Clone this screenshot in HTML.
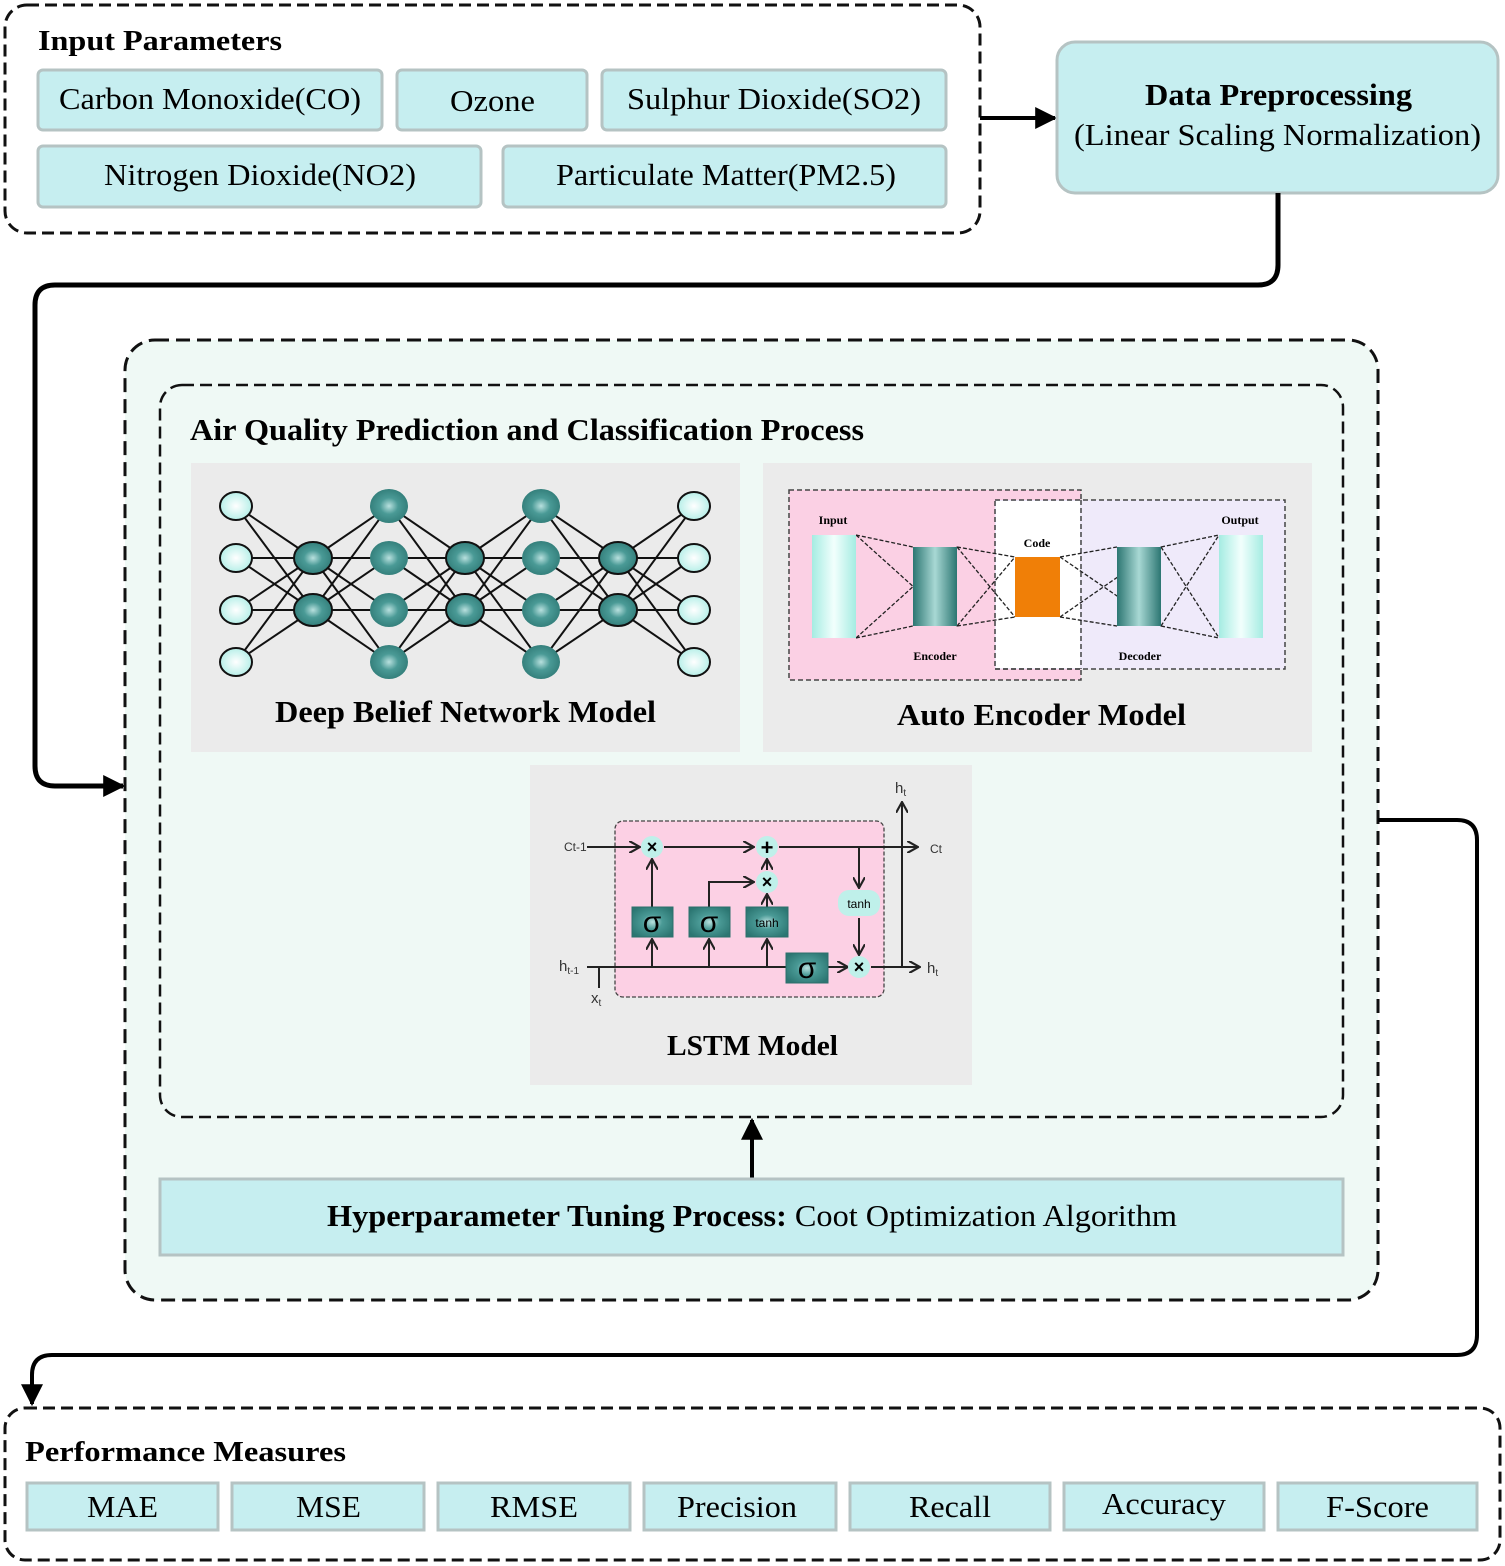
<!DOCTYPE html>
<html><head><meta charset="utf-8"><style>
html,body{margin:0;padding:0;background:#fff}
svg{display:block}
text{font-family:"Liberation Serif",serif}
.s text{font-family:"Liberation Sans",sans-serif}
</style></head><body>
<svg id="g" width="1505" height="1566" viewBox="0 0 1505 1566" xmlns="http://www.w3.org/2000/svg">
<defs>
<marker id="ab" viewBox="0 0 10 10" markerWidth="22" markerHeight="22" refX="9" refY="5" orient="auto" markerUnits="userSpaceOnUse"><path d="M0,0 L10,5 L0,10 z" fill="#000"/></marker>
<marker id="la" viewBox="0 0 10 10" markerWidth="12" markerHeight="12" refX="9" refY="5" orient="auto" markerUnits="userSpaceOnUse"><path d="M0,0 L9,5 L0,10" fill="none" stroke="#222" stroke-width="1.8"/></marker>
<radialGradient id="teal" cx="50%" cy="50%" r="60%"><stop offset="0" stop-color="#b8e0de"/><stop offset="0.4" stop-color="#4a9a96"/><stop offset="1" stop-color="#2c7672"/></radialGradient>
<radialGradient id="lc" cx="50%" cy="50%" r="60%"><stop offset="0" stop-color="#ffffff"/><stop offset="1" stop-color="#a9ece4"/></radialGradient>
<linearGradient id="tealh" x1="0" x2="1"><stop offset="0" stop-color="#2c7672"/><stop offset="0.5" stop-color="#a8d8d4"/><stop offset="1" stop-color="#2c7672"/></linearGradient>
<linearGradient id="lch" x1="0" x2="1"><stop offset="0" stop-color="#a5ece2"/><stop offset="0.5" stop-color="#f2fffd"/><stop offset="1" stop-color="#a5ece2"/></linearGradient>
</defs>

<rect x="5" y="5" width="975" height="228" rx="22" fill="#fff" stroke="#111" stroke-width="3" stroke-dasharray="12,6"/>
<text x="38" y="50" font-size="28" font-weight="bold" textLength="244" lengthAdjust="spacingAndGlyphs">Input Parameters</text>
<g fill="#c6eef0" stroke="#b5c3c3" stroke-width="3">
<rect x="38" y="70" width="344" height="60" rx="5"/>
<rect x="397" y="70" width="190" height="60" rx="5"/>
<rect x="602" y="70" width="344" height="60" rx="5"/>
<rect x="38" y="146" width="443" height="61" rx="5"/>
<rect x="503" y="146" width="443" height="61" rx="5"/>
</g>
<g font-size="31" lengthAdjust="spacingAndGlyphs">
<text x="59" y="109" textLength="302" lengthAdjust="spacingAndGlyphs">Carbon Monoxide(CO)</text>
<text x="450" y="111" textLength="85" lengthAdjust="spacingAndGlyphs">Ozone</text>
<text x="627" y="109" textLength="294" lengthAdjust="spacingAndGlyphs">Sulphur Dioxide(SO2)</text>
<text x="104" y="185" textLength="312" lengthAdjust="spacingAndGlyphs">Nitrogen Dioxide(NO2)</text>
<text x="556" y="185" textLength="340" lengthAdjust="spacingAndGlyphs">Particulate Matter(PM2.5)</text>
</g>
<line x1="980" y1="118" x2="1055" y2="118" stroke="#000" stroke-width="4" marker-end="url(#ab)"/>

<rect x="1057" y="42" width="441" height="151" rx="18" fill="#c6eef0" stroke="#b5c3c3" stroke-width="3"/>
<text x="1145" y="105" font-size="31" font-weight="bold" textLength="267" lengthAdjust="spacingAndGlyphs">Data Preprocessing</text>
<text x="1074" y="145" font-size="31" textLength="407" lengthAdjust="spacingAndGlyphs">(Linear Scaling Normalization)</text>

<path d="M1278,193 V265 Q1278,285 1258,285 H55 Q35,285 35,305 V766 Q35,786 55,786 H123" fill="none" stroke="#000" stroke-width="5" marker-end="url(#ab)"/>

<rect x="125" y="340" width="1253" height="960" rx="30" fill="#eff9f5" stroke="#111" stroke-width="3" stroke-dasharray="14,7"/>
<rect x="160" y="385" width="1183" height="732" rx="22" fill="none" stroke="#111" stroke-width="2.5" stroke-dasharray="12,6"/>
<text x="190" y="440" font-size="31" font-weight="bold" textLength="674" lengthAdjust="spacingAndGlyphs">Air Quality Prediction and Classification Process</text>

<rect x="191" y="463" width="549" height="289" fill="#ebebeb"/>
<g id="dbnl" stroke="#111" stroke-width="2"></g>
<g id="dbnn"></g>
<text x="275" y="722" font-size="31" font-weight="bold" textLength="381" lengthAdjust="spacingAndGlyphs">Deep Belief Network Model</text>

<rect x="763" y="463" width="549" height="289" fill="#ebebeb"/>
<rect x="789" y="490" width="292" height="190" fill="#fbd0e4" stroke="#444" stroke-width="1.5" stroke-dasharray="5,3"/>
<rect x="995" y="500" width="290" height="169" fill="#efeafa" stroke="#444" stroke-width="1.5" stroke-dasharray="5,3"/>
<rect x="996" y="501" width="84" height="167" fill="#fff"/>
<line x1="1081" y1="500" x2="1081" y2="669" stroke="#444" stroke-width="1.5" stroke-dasharray="5,3"/>
<line x1="995" y1="669" x2="1081" y2="669" stroke="#444" stroke-width="1.5" stroke-dasharray="5,3"/>
<g stroke="#222" stroke-width="1.3" stroke-dasharray="4,2" fill="none">
<path d="M856,535 L913,547 M856,535 L957,626 M856,638 L913,626 M856,638 L957,547"/>
<path d="M957,547 L1015,557 M957,547 L1015,617 M957,626 L1015,617 M957,626 L1015,557"/>
<path d="M1060,557 L1117,547 M1060,557 L1161,626 M1060,617 L1117,626 M1060,617 L1161,547"/>
<path d="M1161,547 L1219,535 M1161,547 L1219,638 M1161,626 L1219,638 M1161,626 L1219,535"/>
</g>
<rect x="812" y="535" width="44" height="103" fill="url(#lch)"/>
<rect x="913" y="547" width="44" height="79" fill="url(#tealh)"/>
<rect x="1015" y="557" width="45" height="60" fill="#f07f07"/>
<rect x="1117" y="547" width="44" height="79" fill="url(#tealh)"/>
<rect x="1219" y="535" width="44" height="103" fill="url(#lch)"/>
<g font-size="12" font-weight="bold" text-anchor="middle">
<text x="833" y="524">Input</text><text x="1240" y="524">Output</text>
<text x="1037" y="547">Code</text><text x="935" y="660">Encoder</text><text x="1140" y="660">Decoder</text>
</g>
<text x="897" y="725" font-size="31" font-weight="bold" textLength="289" lengthAdjust="spacingAndGlyphs">Auto Encoder Model</text>

<rect x="530" y="765" width="442" height="320" fill="#ebebeb"/>
<rect x="615" y="821" width="269" height="176" rx="8" fill="#fcd0e4" stroke="#444" stroke-width="1.3" stroke-dasharray="4,2"/>
<g stroke="#222" stroke-width="2" fill="none">
<line x1="587" y1="847" x2="640" y2="847" marker-end="url(#la)"/>
<line x1="664" y1="847" x2="754" y2="847" marker-end="url(#la)"/>
<line x1="779" y1="847" x2="918" y2="847" marker-end="url(#la)"/>
<line x1="587" y1="967" x2="786" y2="967"/>
<line x1="828" y1="967" x2="848" y2="967" marker-end="url(#la)"/>
<line x1="871" y1="967" x2="920" y2="967" marker-end="url(#la)"/>
<line x1="599" y1="967" x2="599" y2="988"/>
<line x1="902" y1="967" x2="902" y2="802" marker-end="url(#la)"/>
<line x1="652" y1="967" x2="652" y2="939" marker-end="url(#la)"/>
<line x1="709" y1="967" x2="709" y2="939" marker-end="url(#la)"/>
<line x1="767" y1="967" x2="767" y2="939" marker-end="url(#la)"/>
<line x1="652" y1="907" x2="652" y2="859" marker-end="url(#la)"/>
<path d="M709,907 V882 H754" marker-end="url(#la)"/>
<line x1="767" y1="907" x2="767" y2="894" marker-end="url(#la)"/>
<line x1="767" y1="870" x2="767" y2="859" marker-end="url(#la)"/>
<line x1="859" y1="847" x2="859" y2="888" marker-end="url(#la)"/>
<line x1="859" y1="918" x2="859" y2="955" marker-end="url(#la)"/>
</g>
<g fill="url(#teal)" stroke="#2b6f6b">
<rect x="632" y="907" width="41" height="30"/><rect x="689" y="907" width="41" height="30"/>
<rect x="746" y="907" width="42" height="30"/><rect x="786" y="953" width="42" height="30"/>
</g>
<g fill="#bff0ea"><circle cx="652" cy="847" r="11"/><circle cx="767" cy="847" r="11"/><circle cx="767" cy="882" r="11"/><circle cx="859" cy="967" r="11"/>
<rect x="838" y="890" width="42" height="26" rx="11"/></g>
<g class="s">
<text x="652" y="853" font-size="18" font-weight="bold" text-anchor="middle">×</text>
<text x="767" y="855" font-size="22" font-weight="bold" text-anchor="middle">+</text>
<text x="767" y="888" font-size="18" font-weight="bold" text-anchor="middle">×</text>
<text x="859" y="973" font-size="18" font-weight="bold" text-anchor="middle">×</text>
<text x="652" y="932" font-size="30" text-anchor="middle">σ</text>
<text x="709" y="932" font-size="30" text-anchor="middle">σ</text>
<text x="807" y="978" font-size="30" text-anchor="middle">σ</text>
<text x="767" y="927" font-size="12" text-anchor="middle">tanh</text>
<text x="859" y="908" font-size="12" text-anchor="middle">tanh</text>
<text x="564" y="851" font-size="12" fill="#333">Ct-1</text>
<text x="930" y="853" font-size="12" fill="#333">Ct</text>
<text x="559" y="971" font-size="15" fill="#333">h<tspan font-size="10" dy="3">t-1</tspan></text>
<text x="927" y="973" font-size="15" fill="#333">h<tspan font-size="10" dy="3">t</tspan></text>
<text x="895" y="793" font-size="15" fill="#333">h<tspan font-size="10" dy="3">t</tspan></text>
<text x="591" y="1003" font-size="15" fill="#333">x<tspan font-size="10" dy="3">t</tspan></text>
</g>
<text x="667" y="1055" font-size="29" font-weight="bold" textLength="171" lengthAdjust="spacingAndGlyphs">LSTM Model</text>

<line x1="752" y1="1178" x2="752" y2="1120" stroke="#000" stroke-width="4" marker-end="url(#ab)"/>
<rect x="160" y="1179" width="1183" height="76" fill="#c6eef0" stroke="#b5c3c3" stroke-width="3"/>
<text x="327" y="1226" font-size="31" textLength="850" lengthAdjust="spacingAndGlyphs"><tspan font-weight="bold">Hyperparameter Tuning Process: </tspan>Coot Optimization Algorithm</text>

<path d="M1378,820 H1457 Q1477,820 1477,840 V1335 Q1477,1355 1457,1355 H52 Q32,1355 32,1375 V1404" fill="none" stroke="#000" stroke-width="4" marker-end="url(#ab)"/>

<rect x="5" y="1408" width="1495" height="152" rx="20" fill="#fff" stroke="#111" stroke-width="3" stroke-dasharray="12,6"/>
<text x="25" y="1461" font-size="29" font-weight="bold" textLength="321" lengthAdjust="spacingAndGlyphs">Performance Measures</text>
<g fill="#c6eef0" stroke="#b5c3c3" stroke-width="3">
<rect x="27" y="1483" width="191" height="47"/><rect x="232" y="1483" width="192" height="47"/>
<rect x="438" y="1483" width="192" height="47"/><rect x="644" y="1483" width="192" height="47"/>
<rect x="850" y="1483" width="200" height="47"/><rect x="1064" y="1483" width="200" height="47"/>
<rect x="1278" y="1483" width="199" height="47"/>
</g>
<g font-size="31">
<text x="87" y="1517" textLength="71" lengthAdjust="spacingAndGlyphs">MAE</text>
<text x="296" y="1517" textLength="65" lengthAdjust="spacingAndGlyphs">MSE</text>
<text x="490" y="1517" textLength="88" lengthAdjust="spacingAndGlyphs">RMSE</text>
<text x="677" y="1517" textLength="120" lengthAdjust="spacingAndGlyphs">Precision</text>
<text x="909" y="1517" textLength="82" lengthAdjust="spacingAndGlyphs">Recall</text>
<text x="1102" y="1514" textLength="124" lengthAdjust="spacingAndGlyphs">Accuracy</text>
<text x="1326" y="1517" textLength="103" lengthAdjust="spacingAndGlyphs">F-Score</text>
</g>
</svg>
<script>
var NS="http://www.w3.org/2000/svg";
var cols=[236,313,389,465,541,618,694];
var four=[506,558,610,662],two=[558,610];
var rows=[four,two,four,two,four,two,four];
var L=document.getElementById("dbnl"),N=document.getElementById("dbnn");
for(var i=0;i<6;i++){rows[i].forEach(function(a){rows[i+1].forEach(function(b){
var l=document.createElementNS(NS,"line");l.setAttribute("x1",cols[i]);l.setAttribute("y1",a);l.setAttribute("x2",cols[i+1]);l.setAttribute("y2",b);L.appendChild(l);});});}
for(var i=0;i<7;i++){rows[i].forEach(function(y){
var e=document.createElementNS(NS,"ellipse");e.setAttribute("cx",cols[i]);e.setAttribute("cy",y);
if(i==0||i==6){e.setAttribute("rx",16);e.setAttribute("ry",14);e.setAttribute("fill","url(#lc)");e.setAttribute("stroke","#111");e.setAttribute("stroke-width","2");}
else if(i%2==1){e.setAttribute("rx",19);e.setAttribute("ry",16);e.setAttribute("fill","url(#teal)");e.setAttribute("stroke","#111");e.setAttribute("stroke-width","2");}
else{e.setAttribute("rx",19);e.setAttribute("ry",17);e.setAttribute("fill","url(#teal)");}
N.appendChild(e);});}
</script>
</body></html>
